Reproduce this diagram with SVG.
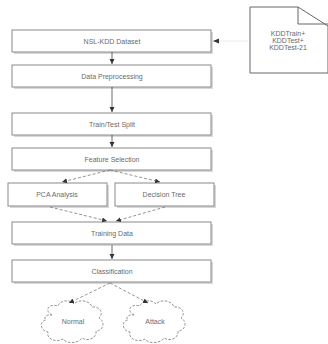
<svg xmlns="http://www.w3.org/2000/svg" width="328" height="344" viewBox="0 0 328 344">
<defs>
<marker id="ah" markerWidth="6" markerHeight="6" refX="5" refY="3" orient="auto" markerUnits="userSpaceOnUse"><path d="M0,0.5 L5,3 L0,5.5 Z" fill="#333"/></marker>
<style>
.box{fill:#fff;stroke:#8a8a8a;stroke-width:1}
.sh{fill:#d8d8d8}
.t{font-family:"Liberation Sans",Arial,sans-serif;font-size:7px;fill:#6a6a6a;text-anchor:middle}
.c{stroke:#444;stroke-width:0.8;fill:none}
.d{stroke:#777;stroke-width:0.8;fill:none;stroke-dasharray:3,2}
.cl{fill:#fff;stroke:#777;stroke-width:0.8;stroke-dasharray:2.5,1.5}
</style>
</defs>
<rect width="328" height="344" fill="#fff"/>
<g id="note">
<path d="M250,7 L298,7 L328,26 L328,73 L250,73 Z" fill="#fff" stroke="#666" stroke-width="1"/>
<path d="M298,7 L298,24 L328,24" fill="none" stroke="#666" stroke-width="1"/>
<text class="t" x="288" y="36" font-size="6.5">KDDTrain+</text>
<text class="t" x="288" y="43" font-size="6.5">KDDTest+</text>
<text class="t" x="288" y="50" font-size="6.5">KDDTest-21</text>
</g>
<g id="n1"><rect class="sh" x="14" y="32" width="199" height="22"/><rect class="box" x="12" y="30" width="199" height="22"/><text class="t" x="112" y="44">NSL-KDD Dataset</text></g>
<g id="n2"><rect class="sh" x="14" y="67" width="199" height="22"/><rect class="box" x="12" y="65" width="199" height="22"/><text class="t" x="112" y="79">Data Preprocessing</text></g>
<g id="n3"><rect class="sh" x="14" y="115" width="199" height="22"/><rect class="box" x="12" y="113" width="199" height="22"/><text class="t" x="112" y="127">Train/Test Split</text></g>
<g id="n4"><rect class="sh" x="14" y="150" width="199" height="22"/><rect class="box" x="12" y="148" width="199" height="22"/><text class="t" x="112" y="162">Feature Selection</text></g>
<g id="n5"><rect class="sh" x="10" y="185" width="99" height="23"/><rect class="box" x="8" y="183" width="99" height="23"/><text class="t" x="57" y="197">PCA Analysis</text></g>
<g id="n6"><rect class="sh" x="117" y="185" width="99" height="23"/><rect class="box" x="115" y="183" width="99" height="23"/><text class="t" x="164" y="197">Decision Tree</text></g>
<g id="n7"><rect class="sh" x="14" y="224" width="199" height="22"/><rect class="box" x="12" y="222" width="199" height="22"/><text class="t" x="112" y="236">Training Data</text></g>
<g id="n8"><rect class="sh" x="14" y="262" width="199" height="22"/><rect class="box" x="12" y="260" width="199" height="22"/><text class="t" x="112" y="274">Classification</text></g>
<g id="n9" transform="translate(0,5)"><path class="cl" d="M52,310 C44,306 48,298 58,301 C60,295 70,294 74,299 C78,294 90,295 92,302 C100,301 104,308 99,313 C106,317 103,326 96,326 C97,333 88,337 82,333 C78,339 66,339 63,334 C56,338 46,334 48,327 C40,326 39,316 46,315 C43,313 46,309 52,310 Z"/><text class="t" x="73" y="319">Normal</text></g>
<g id="n10" transform="translate(0,5)"><path class="cl" d="M134,310 C126,306 130,298 140,301 C142,295 152,294 156,299 C160,294 172,295 174,302 C182,301 186,308 181,313 C188,317 185,326 178,326 C179,333 170,337 164,333 C160,339 148,339 145,334 C138,338 128,334 130,327 C122,326 121,316 128,315 C125,313 128,309 134,310 Z"/><text class="t" x="155" y="319">Attack</text></g>
<g id="connectors">
<line x1="248" y1="41" x2="212" y2="41" stroke="#ddd" stroke-width="0.6"/>
<path d="M219,41 L213,38.5 L213,43.5 Z" fill="#333" transform="rotate(180 216 41)"/>
<line class="c" x1="112" y1="52" x2="112" y2="64" marker-end="url(#ah)"/>
<line class="c" x1="112" y1="87" x2="112" y2="112" marker-end="url(#ah)"/>
<line class="c" x1="112" y1="135" x2="112" y2="147" marker-end="url(#ah)"/>
<line class="d" x1="110" y1="170" x2="62" y2="182" marker-end="url(#ah)"/>
<line class="d" x1="110" y1="170" x2="160" y2="182" marker-end="url(#ah)"/>
<line class="d" x1="50" y1="207" x2="107" y2="221" marker-end="url(#ah)"/>
<line class="d" x1="165" y1="207" x2="116" y2="221" marker-end="url(#ah)"/>
<line class="c" x1="112" y1="245" x2="112" y2="259" marker-end="url(#ah)"/>
<line class="d" x1="110" y1="283" x2="69" y2="303" marker-end="url(#ah)"/>
<line class="d" x1="110" y1="283" x2="148" y2="303" marker-end="url(#ah)"/>
</g>
</svg>
